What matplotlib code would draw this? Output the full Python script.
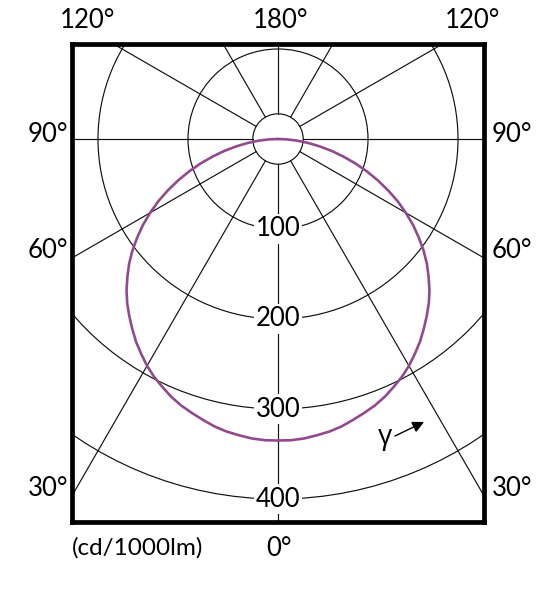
import numpy as np
import matplotlib
matplotlib.use('Agg')
import matplotlib.pyplot as plt
from matplotlib.patches import Circle

# ---- data ----
gamma_deg = [0, 2.5, 5, 7.5, 10, 12.5, 15, 17.5, 20, 22.5, 25, 27.5, 30, 32.5, 35, 37.5,
             40, 42.5, 45, 47.5, 50, 52.5, 55, 57.5, 60, 62.5, 65, 67.5, 70, 72.5, 75,
             77.5, 80, 82.5, 85, 87.5, 90]
intensity = [335, 335, 334, 332, 330, 327, 323, 319, 315, 310, 304, 298, 291, 283, 275, 266,
             257, 248, 238, 227, 216, 204, 191, 178, 164, 150, 135, 120, 105, 90, 75,
             61, 47, 34, 22, 10, 0]
ring_values = [28, 100, 200, 300, 400]
ring_labels = ['100', '200', '300', '400']
spoke_angles = [0, 30, 60, 90, 120, 150, 180, 210, 240, 270, 300, 330]
side_labels = ['30°', '60°', '90°']
top_labels = ['120°', '180°', '120°']
unit_label = '(cd/1000lm)'
bottom_label = '0°'

FONT = ['Lato', 'DejaVu Sans']
plt.rcParams['font.family'] = FONT

W, H = 558, 600
fig = plt.figure(figsize=(W / 100, H / 100), dpi=100)

# box in pixels
bl, br, bt, bb = 72, 484, 44, 522
cx, cy = 278, 139
s = 0.9  # px per cd unit

ax = fig.add_axes([bl / W, 1 - bb / H, (br - bl) / W, (bb - bt) / H])
ax.set_xlim((bl - cx) / s, (br - cx) / s)
ax.set_ylim(-(bb - cy) / s, (cy - bt) / s)
ax.set_aspect('equal')
ax.set_xticks([])
ax.set_yticks([])
for sp in ax.spines.values():
    sp.set_linewidth(3.4)
    sp.set_color('black')
    sp.set_zorder(10)

lc = '#111111'
# rings
for r in ring_values:
    ax.add_patch(Circle((0, 0), r, fill=False, lw=0.85, color=lc, zorder=2))
# spokes
r0, r1 = ring_values[0], 1000
for a in spoke_angles:
    t = np.deg2rad(a)
    ax.plot([r0 * np.sin(t), r1 * np.sin(t)], [-r0 * np.cos(t), -r1 * np.cos(t)],
            color=lc, lw=0.85, zorder=2)

# ring labels
for r, lab in zip(ring_values[1:], ring_labels):
    ax.text(0, -r, lab, ha='center', va='center', fontsize=18.5, color='black', zorder=4,
            bbox=dict(boxstyle='square,pad=0.08', fc='white', ec='none'))

# curve
g = [-v for v in gamma_deg[::-1]] + gamma_deg[1:]
I = intensity[::-1] + intensity[1:]
g = np.deg2rad(np.array(g, dtype=float))
I = np.array(I, dtype=float)
ax.plot(I * np.sin(g), -I * np.cos(g), color='#924A8E', lw=1.9, zorder=5,
        solid_joinstyle='round', solid_capstyle='round')

# gamma arrow
ax.annotate('', xy=((424 - cx) / s, -(422 - cy) / s), xytext=((395 - cx) / s, -(436 - cy) / s),
            arrowprops=dict(arrowstyle='-|>', color='black', lw=1.0, mutation_scale=17,
                            shrinkA=0, shrinkB=0), zorder=6)
ax.text((392 - cx) / s, -(437 - cy) / s, 'γ', ha='right', va='center', fontsize=20,
        family=['Open Sans', 'DejaVu Sans'], zorder=6)

# outer labels
def fx(px):
    return px / W

def fy(py):
    return 1 - py / H

for lab, py in zip(side_labels, [488, 251, 135]):
    fig.text(fx(48), fy(py), lab, ha='center', va='center', fontsize=18.5)
    fig.text(fx(512), fy(py), lab, ha='center', va='center', fontsize=18.5)
for lab, px in zip(top_labels, [88, 281, 473]):
    fig.text(fx(px), fy(21), lab, ha='center', va='center', fontsize=18.5)
fig.text(fx(138), fy(548), unit_label, ha='center', va='center', fontsize=17.5)
fig.text(fx(279), fy(548), bottom_label, ha='center', va='center', fontsize=18.5)

fig.savefig('out.png', dpi=100, facecolor='white')
